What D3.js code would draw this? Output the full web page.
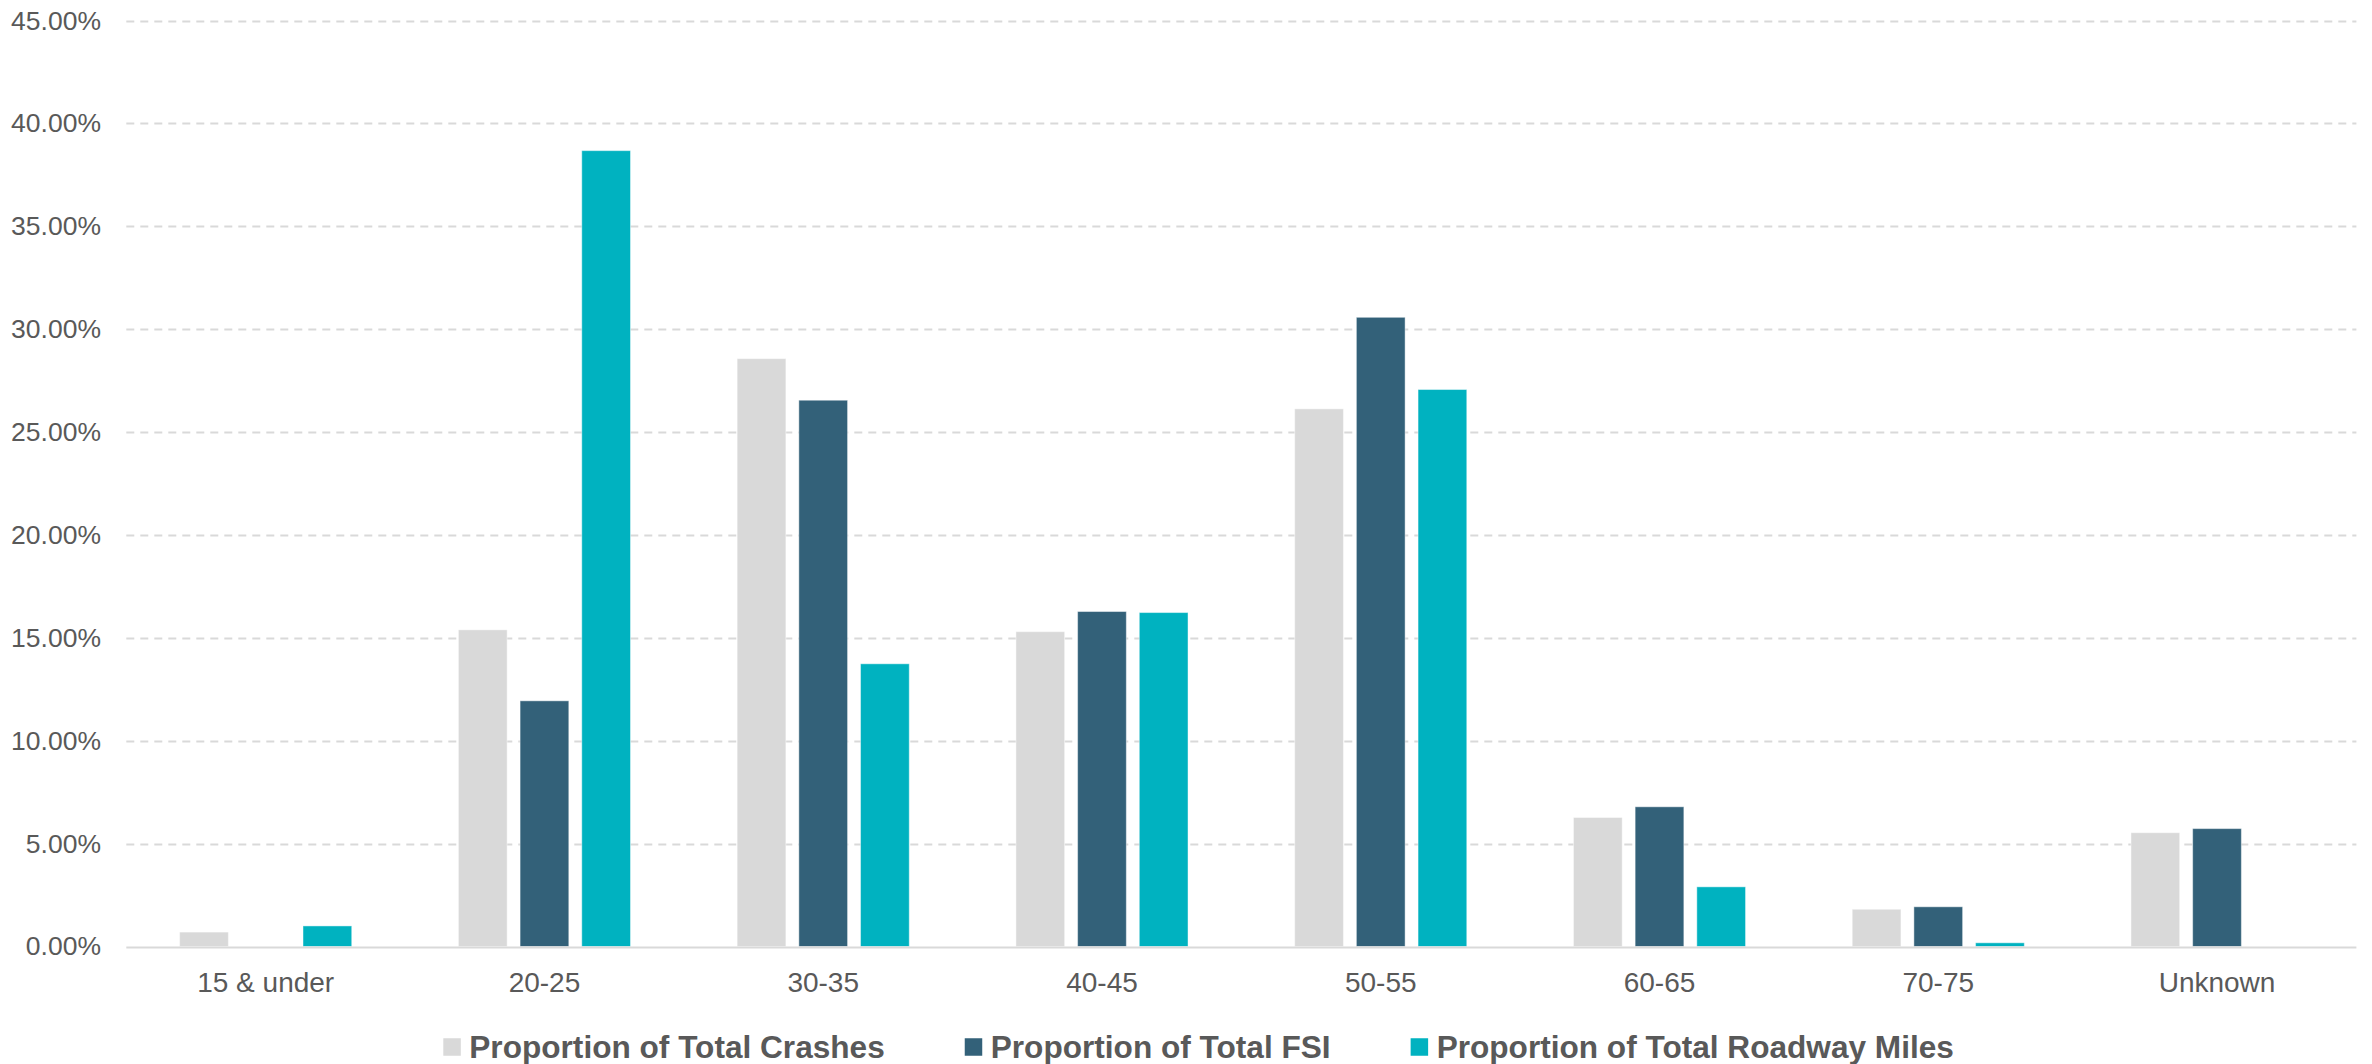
<!DOCTYPE html>
<html>
<head>
<meta charset="utf-8">
<script src="https://cdn.jsdelivr.net/npm/d3@7"></script>
<style>
  html, body { margin: 0; padding: 0; background: #ffffff; }
  svg { display: block; font-family: "Liberation Sans", Arial, sans-serif; }
</style>
</head>
<body>
<svg id="chart" width="2372" height="1064"></svg>
<script>
// Speed-limit groups
const categories = ["15 & under", "20-25", "30-35", "40-45", "50-55", "60-65", "70-75", "Unknown"];

// Share of each measure by speed-limit group (fractions)
const totalCrashes = [0.0070, 0.1539, 0.2857, 0.1530, 0.2613, 0.0627, 0.0181, 0.0553];
const totalFSI     = [0.0000, 0.1194, 0.2655, 0.1628, 0.3058, 0.0679, 0.0193, 0.0573];
const roadwayMiles = [0.0100, 0.3868, 0.1374, 0.1623, 0.2707, 0.0290, 0.0018, null];

const seriesNames = ["Proportion of Total Crashes", "Proportion of Total FSI", "Proportion of Total Roadway Miles"];
const seriesColors = ["#d9d9d9", "#336179", "#00b2c0"];
const seriesValues = [totalCrashes, totalFSI, roadwayMiles];

// Y-axis ticks
const yTicks = [0, 0.05, 0.10, 0.15, 0.20, 0.25, 0.30, 0.35, 0.40, 0.45];

const svg = d3.select("#chart");
const plot = { left: 126.3, right: 2356.4, top: 20.6, bottom: 946.5 };
const textColor = "#595959";

const y = d3.scaleLinear().domain([0, 0.45]).range([plot.bottom, plot.top]);
const x0 = d3.scaleBand().domain(categories).range([plot.left, plot.right]).padding(0);
const groupWidth = 172.1;
const x1 = d3.scaleBand().domain(seriesNames).range([0, groupWidth]).paddingInner(0.21).paddingOuter(0);
const color = d3.scaleOrdinal().domain(seriesNames).range(seriesColors);

// Dashed horizontal gridlines
svg.append("g")
  .selectAll("line")
  .data(yTicks.filter(t => t > 0))
  .join("line")
  .attr("x1", plot.left)
  .attr("x2", plot.right)
  .attr("y1", d => Math.round(y(d)) + 0.5)
  .attr("y2", d => Math.round(y(d)) + 0.5)
  .attr("stroke", "#d9d9d9")
  .attr("stroke-width", 2)
  .attr("stroke-dasharray", "8,6");

// Y axis labels
const yAxis = d3.axisLeft(y).tickValues(yTicks).tickFormat(d3.format(".2%")).tickSize(0).tickPadding(0);
const yg = svg.append("g").attr("transform", `translate(101,0)`).call(yAxis);
yg.select(".domain").remove();
yg.selectAll("text")
  .attr("fill", textColor)
  .style("font-size", "26.5px")
  .style("font-family", "'Liberation Sans', Arial, sans-serif");

// Bars
const rows = categories.map((c, i) => ({ cat: c, vals: seriesNames.map((s, k) => ({ s, v: seriesValues[k][i] })) }));
const groups = svg.append("g")
  .selectAll("g")
  .data(rows)
  .join("g")
  .attr("transform", d => `translate(${x0(d.cat) + (x0.bandwidth() - groupWidth) / 2},0)`);

groups.selectAll("rect")
  .data(d => d.vals.filter(o => o.v !== null && o.v > 0))
  .join("rect")
  .attr("x", d => x1(d.s))
  .attr("width", x1.bandwidth())
  .attr("y", d => y(d.v))
  .attr("height", d => y(0) - y(d.v))
  .attr("fill", d => color(d.s))
  .attr("stroke", "#ffffff")
  .attr("stroke-opacity", 0.45)
  .attr("stroke-width", 1);

// Baseline
svg.append("line")
  .attr("x1", plot.left)
  .attr("x2", plot.right)
  .attr("y1", y(0) + 1)
  .attr("y2", y(0) + 1)
  .attr("stroke", "#d9d9d9")
  .attr("stroke-width", 2);

// X axis labels
const xAxis = d3.axisBottom(x0).tickSize(0).tickPadding(0);
const xg = svg.append("g").attr("transform", `translate(0,${y(0) + 26})`).call(xAxis);
xg.select(".domain").remove();
xg.selectAll("text")
  .attr("fill", textColor)
  .attr("dy", "0.71em")
  .style("font-size", "28px")
  .style("font-family", "'Liberation Sans', Arial, sans-serif");

// Legend
const legend = svg.append("g");
const sq = 17.5, sqGap = 8.5, itemGap = 80, legendLeft = 443.3, legendY = 1047;
const items = legend.selectAll("g").data(seriesNames).join("g");
items.append("rect")
  .attr("width", sq).attr("height", sq)
  .attr("y", legendY - sq / 2)
  .attr("fill", d => color(d));
items.append("text")
  .attr("x", sq + sqGap)
  .attr("y", legendY + 10.8)
  .attr("fill", textColor)
  .style("font-size", "31.6px")
  .style("font-weight", "bold")
  .text(d => d);
let cx = legendLeft;
items.each(function() {
  const w = sq + sqGap + d3.select(this).select("text").node().getComputedTextLength();
  d3.select(this).attr("transform", `translate(${cx},0)`);
  cx += w + itemGap;
});
</script>
</body>
</html>
